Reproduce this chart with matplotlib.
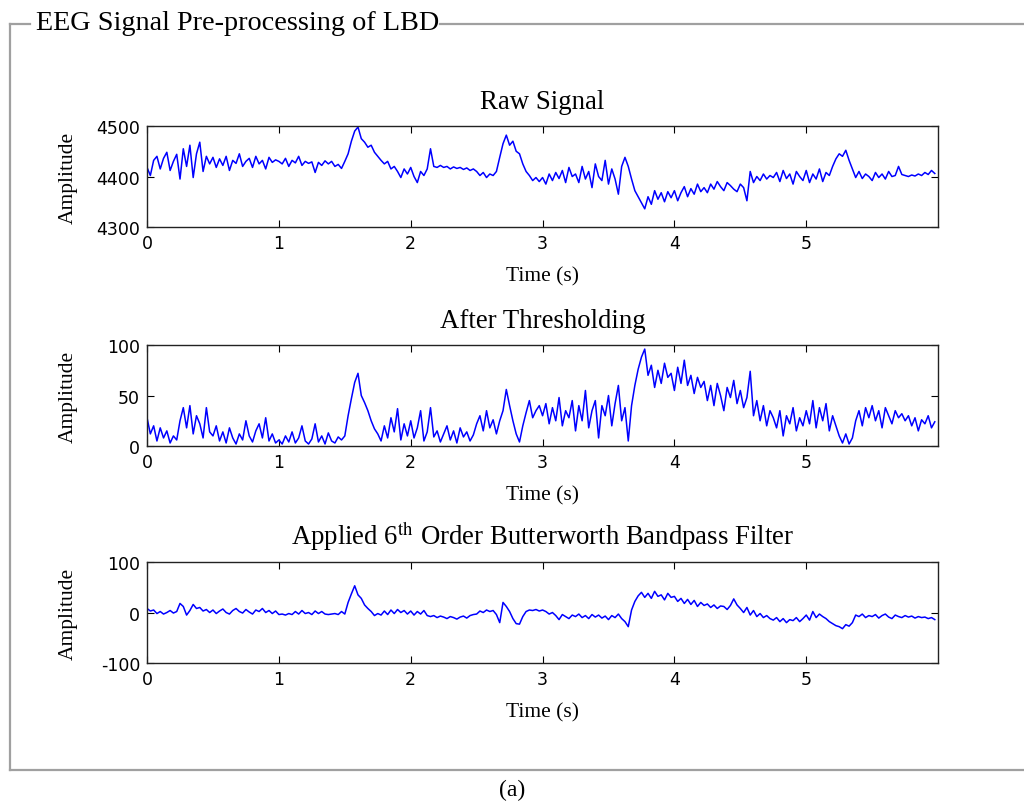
import numpy as np
import matplotlib.pyplot as plt
from matplotlib.lines import Line2D

# -------------------------------------------------------------------------------------------------------------------------------------------
# data, one sample every 0.025 s

t_step = 0.025

raw_signal = [
    4418, 4402, 4432, 4440, 4415, 4436, 4448, 4412, 4430, 4444,
    4395, 4455, 4420, 4462, 4398, 4445, 4468, 4410, 4440, 4425,
    4438, 4418, 4435, 4422, 4440, 4412, 4432, 4426, 4445, 4420,
    4430, 4436, 4418, 4440, 4425, 4432, 4415, 4438, 4428, 4433,
    4430, 4425, 4436, 4420, 4432, 4427, 4440, 4422, 4430, 4426,
    4429, 4408, 4428, 4422, 4431, 4425, 4430, 4420, 4424, 4416,
    4430, 4445, 4470, 4490, 4498, 4475, 4468, 4458, 4462, 4448,
    4440, 4432, 4425, 4430, 4415, 4420, 4410, 4398, 4415, 4405,
    4418, 4400, 4388, 4410, 4402, 4415, 4455, 4420, 4418, 4422,
    4418, 4420, 4415, 4419, 4416, 4418, 4414, 4417, 4412, 4415,
    4410, 4402, 4408, 4398, 4405, 4402, 4410, 4438, 4465, 4482,
    4462, 4470, 4450, 4445, 4425, 4410, 4402, 4392, 4398, 4390,
    4398, 4385, 4405, 4392, 4408, 4396, 4412, 4388, 4418, 4400,
    4405, 4388, 4420, 4395, 4410, 4378, 4425, 4400, 4392, 4432,
    4385, 4415, 4395, 4365, 4420, 4438, 4420, 4395, 4372, 4360,
    4348, 4336, 4360, 4345, 4372, 4355, 4368, 4350, 4370, 4358,
    4372, 4352, 4368, 4380, 4360, 4376, 4365, 4385, 4370, 4378,
    4368, 4385, 4375, 4390, 4380, 4372, 4388, 4382, 4375, 4370,
    4385, 4378, 4352, 4410, 4388, 4400, 4392, 4405, 4395, 4402,
    4398, 4408, 4390, 4412, 4396, 4405, 4385, 4410, 4400, 4392,
    4412, 4388, 4405, 4395, 4415, 4390, 4408, 4402, 4420, 4435,
    4445, 4440, 4452, 4432, 4415, 4398, 4410, 4396, 4405, 4400,
    4392, 4408, 4398, 4405, 4395, 4410, 4400, 4402, 4420, 4404,
    4402, 4400, 4403, 4401, 4405, 4402, 4408, 4404, 4412, 4406,
]

thresholded = [
    28, 12, 20, 5, 18, 8, 15, 3, 10, 6,
    25, 38, 18, 40, 12, 30, 22, 8, 38, 14,
    10, 20, 5, 14, 3, 18, 8, 2, 12, 6,
    25, 10, 4, 15, 22, 8, 28, 5, 12, 3,
    6, 2, 10, 4, 14, 3, 8, 20, 5, 2,
    7, 22, 4, 10, 2, 13, 5, 3, 9, 6,
    10, 30, 47, 63, 72, 50, 43, 35, 25, 17,
    12, 5, 20, 8, 28, 14, 37, 6, 22, 10,
    25, 8, 18, 35, 5, 14, 38, 9, 15, 4,
    12, 20, 6, 15, 3, 18, 9, 14, 5, 11,
    22, 30, 15, 35, 18, 26, 12, 25, 35, 56,
    40, 25, 12, 4, 20, 33, 45, 28, 35, 40,
    30, 42, 22, 38, 25, 48, 20, 35, 28, 45,
    15, 40, 25, 55, 18, 35, 45, 8, 40, 30,
    50, 20, 42, 60, 25, 38, 5, 40, 60, 76,
    88, 96, 70, 80, 58, 75, 62, 82, 68, 72,
    55, 78, 62, 85, 60, 70, 52, 68, 58, 64,
    45, 60, 40, 62, 50, 35, 58, 48, 65, 42,
    55, 38, 48, 74, 30, 45, 25, 40, 20, 35,
    28, 18, 35, 10, 30, 22, 38, 15, 28, 20,
    35, 22, 45, 18, 38, 25, 42, 15, 30, 20,
    10, 3, 12, 2, 8, 25, 35, 20, 38, 28,
    40, 25, 35, 18, 38, 30, 22, 35, 28, 32,
    25, 30, 20, 28, 15, 26, 22, 30, 18, 24,
]

filtered = [
    8, 3, 5, -2, 2, -3, 0, 4, -1, 2,
    18, 12, -5, 4, 16, 8, 10, 3, 6, 0,
    5, -2, 3, 7, 0, -3, 4, 8, 2, -1,
    6, 1, -3, 5, 2, 8, 0, 4, -2, 3,
    -4, -3, -5, -2, -4, 2, -3, 4, -2, 0,
    -4, 3, -2, 2, -3, -4, -3, -2, -4, 2,
    -3, 20, 37, 53, 35, 28, 15, 8, 2, -6,
    -2, -5, 3, -4, 5, -2, 6, 0, 4, -3,
    3, -5, 2, -3, 4, -6, -8, -6, -10, -7,
    -9, -12, -8, -10, -13, -9, -7, -11, -6, -4,
    -3, 3, 0, 5, 2, 4, -4, -20, 20, 12,
    2, -12, -22, -23, -8, 2, 5, 4, 6, 3,
    5, 2, -3, 0, -6, -14, -4, -8, -12, -5,
    -8, -3, -10, -6, -12, -4, -9, -5, -11, -7,
    -14, -6, -10, -3, -12, -18, -28, 5, 22, 33,
    40, 30, 38, 28, 42, 32, 35, 25, 38, 30,
    32, 22, 28, 18, 26, 16, 24, 12, 20, 14,
    17, 10, 15, 8, 13, 12, 6, 14, 27, 15,
    8, 0, 10, -5, 4, -8, -2, -10, -6, -12,
    -15, -10, -18, -12, -20, -14, -16, -10, -18, -12,
    -5, -15, 2, -10, -3, -8, -12, -18, -22, -26,
    -28, -32, -24, -27, -20, -5, -8, -3, -10, -6,
    -8, -4, -11, -6, -3, -9, -12, -5, -8, -10,
    -6, -9, -7, -11, -8, -10, -9, -12, -10, -14,
]

titles = ["Raw Signal", "After Thresholding",
          "Applied 6$^{\\mathrm{th}}$ Order Butterworth Bandpass Filter"]
y_limits = [(4300, 4500), (0, 100), (-100, 100)]
y_ticks = [[4300, 4400, 4500], [0, 50, 100], [-100, 0, 100]]
x_ticks = [0, 1, 2, 3, 4, 5]

# -------------------------------------------------------------------------------------------------------------------------------------------

plt.rcParams['mathtext.fontset'] = 'stix'
plt.rcParams['axes.unicode_minus'] = False
serif = 'Liberation Serif'

fig = plt.figure(figsize=(10.24, 8.04), dpi=100)

bottoms = [0.7164, 0.444, 0.1741]
series = [raw_signal, thresholded, filtered]

for i in range(3):
    ax = fig.add_axes([0.1436, bottoms[i], 0.7725, 0.1256])
    y = np.array(series[i])
    t = np.arange(len(y)) * t_step
    ax.plot(t, y, color="blue", lw=1.1)
    ax.set_xlim(0, 6)
    ax.set_ylim(*y_limits[i])
    ax.set_xticks(x_ticks)
    ax.set_yticks(y_ticks[i])
    ax.tick_params(direction="in", top=True, right=True, length=5, labelsize=12.5,
                   labelfontfamily="DejaVu Sans", pad=5)
    for s in ax.spines.values():
        s.set_color("#222222")
        s.set_linewidth(1.0)
    ax.set_title(titles[i], fontsize=19.3, family=serif, pad=13)
    ax.set_xlabel("Time (s)", fontsize=15.5, family=serif, labelpad=10)
    ax.set_ylabel("Amplitude", fontsize=15.5, family=serif)
    ax.yaxis.set_label_coords(-0.087, 0.5)

# group box round the plots
gray = "#a0a0a0"
fig.add_artist(Line2D([10 / 1024, 10 / 1024], [1 - 25 / 804, 1 - 771 / 804],
                      color=gray, lw=1.6, transform=fig.transFigure))
fig.add_artist(Line2D([10 / 1024, 1.0], [1 - 771 / 804, 1 - 771 / 804],
                      color=gray, lw=1.6, transform=fig.transFigure))
fig.add_artist(Line2D([10 / 1024, 30 / 1024], [1 - 25 / 804, 1 - 25 / 804],
                      color=gray, lw=1.6, transform=fig.transFigure))
fig.add_artist(Line2D([440 / 1024, 1.0], [1 - 25 / 804, 1 - 25 / 804],
                      color=gray, lw=1.6, transform=fig.transFigure))
fig.text(36 / 1024, 1 - 24 / 804, "EEG Signal Pre-processing of LBD", fontsize=20.3,
         family=serif, va="center", ha="left")
fig.text(0.5, 1 - 790 / 804, "(a)", fontsize=17, family=serif, va="center", ha="center")

plt.savefig("out.png", dpi=100)
